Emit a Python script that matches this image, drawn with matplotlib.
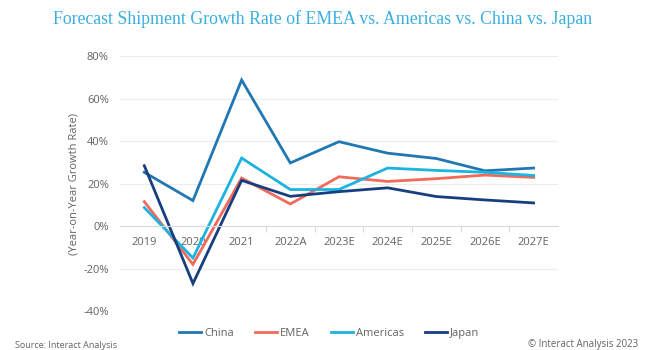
import matplotlib
import matplotlib.pyplot as plt
from matplotlib.ticker import FuncFormatter, FixedLocator

matplotlib.use("agg")

# data
years = ["2019", "2020", "2021", "2022A", "2023E", "2024E", "2025E", "2026E", "2027E"]
china = [25.3, 12.0, 68.7, 29.7, 39.7, 34.3, 31.8, 26.0, 27.3]
emea = [11.5, -18.0, 22.6, 10.4, 23.2, 21.0, 22.3, 24.0, 22.9]
americas = [8.7, -15.0, 32.0, 17.2, 17.2, 27.3, 26.2, 25.3, 23.8]
japan = [28.4, -27.0, 21.5, 14.0, 16.2, 18.0, 13.9, 12.3, 10.9]

series = [
    ("China", china, "#1f78b4"),
    ("EMEA", emea, "#f26a5a"),
    ("Americas", americas, "#1bb3df"),
    ("Japan", japan, "#173f80"),
]

grey = "#636363"
plt.rcParams["font.family"] = ["Open Sans", "DejaVu Sans"]

fig = plt.figure(figsize=(6.45, 3.5), dpi=100)
ax = fig.add_axes([0.186, 0.111, 0.679, 0.729])

x = list(range(len(years)))
for name, vals, color in series:
    ax.plot(x, vals, color=color, lw=2.0, label=name, solid_joinstyle="miter")

ax.set_xlim(-0.5, len(years) - 0.5)
ax.set_ylim(-40, 80)
ax.set_yticks(range(-40, 81, 20))
ax.yaxis.set_major_formatter(FuncFormatter(lambda v, _: f"{v:.0f}%"))
ax.grid(axis="y", color="#ececec", lw=0.8)
ax.set_axisbelow(True)

for side in ["top", "right", "left"]:
    ax.spines[side].set_visible(False)
ax.spines["bottom"].set_position(("data", 0))
ax.spines["bottom"].set_color("#d9d9d9")
ax.spines["bottom"].set_linewidth(0.8)

ax.set_xticks(x)
ax.set_xticklabels(years)
ax.xaxis.set_minor_locator(FixedLocator([i + 0.5 for i in range(len(years) - 1)]))
ax.tick_params(axis="x", which="major", length=0, pad=8, labelsize=8, colors=grey)
ax.tick_params(axis="x", which="minor", length=4, color="#d9d9d9", width=0.8)
ax.tick_params(axis="y", length=0, pad=8, labelsize=8, colors=grey)

ax.set_ylabel("(Year-on-Year Growth Rate)", fontsize=8, color=grey, labelpad=3)

fig.text(0.5, 0.946, "Forecast Shipment Growth Rate of EMEA vs. Americas vs. China vs. Japan",
         ha="center", va="center", fontsize=12.8, color="#3aafdf",
         family="Liberation Serif")

fig.legend(loc="center", bbox_to_anchor=(0.51, 0.048), ncol=4, frameon=False,
           fontsize=8, handlelength=2.0, handletextpad=0.25, columnspacing=1.9,
           labelcolor=grey)

fig.text(0.023, 0.0, "Source: Interact Analysis", fontsize=6.5, color=grey,
         ha="left", va="bottom")
fig.text(0.99, 0.0, "© Interact Analysis 2023", fontsize=7, color=grey,
         ha="right", va="bottom")

fig.savefig("out.png", dpi=100)
